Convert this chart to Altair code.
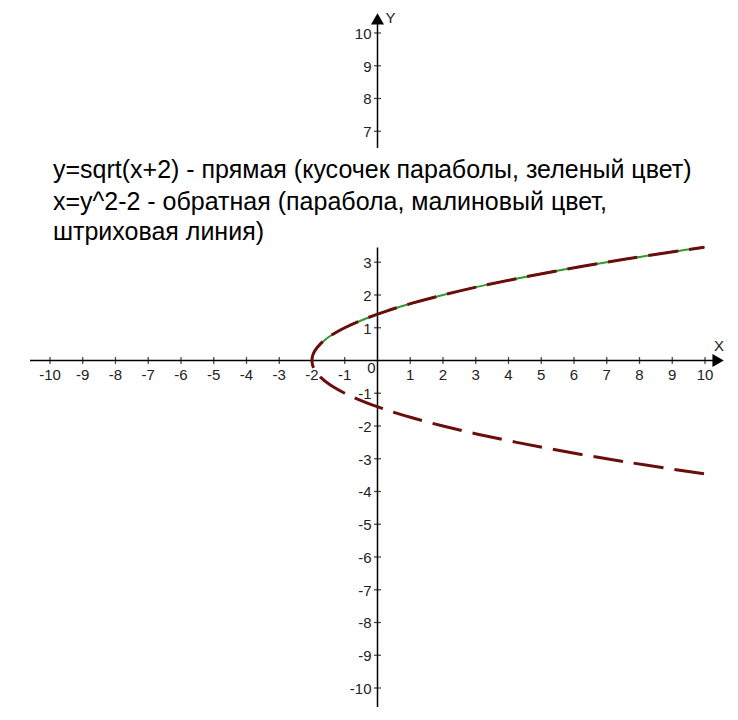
import altair as alt
import pandas as pd

# --- data ---------------------------------------------------------------
# y = sqrt(x+2)  (green, solid)
green_x = [-2, -1.98, -1.95, -1.9, -1.8, -1.65, -1.5, -1.25, -1, -0.5, 0, 0.5, 1, 1.5, 2, 3, 4, 5, 6, 7, 8, 9, 10]
green_y = [0, 0.14, 0.22, 0.32, 0.45, 0.59, 0.71, 0.87, 1, 1.22, 1.41, 1.58, 1.73, 1.87, 2, 2.24, 2.45, 2.65, 2.83, 3, 3.16, 3.32, 3.46]

# x = y^2 - 2  (dark red, dashed)
red_y = [-3.46, -3.2, -3.0, -2.75, -2.5, -2.25, -2.0, -1.75, -1.5, -1.25, -1.0, -0.75, -0.5, -0.3, -0.15, 0,
         0.15, 0.3, 0.5, 0.75, 1.0, 1.25, 1.5, 1.75, 2.0, 2.25, 2.5, 2.75, 3.0, 3.2, 3.46]
red_x = [9.97, 8.24, 7.0, 5.56, 4.25, 3.06, 2.0, 1.06, 0.25, -0.44, -1.0, -1.44, -1.75, -1.91, -1.98, -2,
         -1.98, -1.91, -1.75, -1.44, -1.0, -0.44, 0.25, 1.06, 2.0, 3.06, 4.25, 5.56, 7.0, 8.24, 9.97]

x_ticks = [-10, -9, -8, -7, -6, -5, -4, -3, -2, -1, 1, 2, 3, 4, 5, 6, 7, 8, 9, 10]
x_labels = ["-10", "-9", "-8", "-7", "-6", "-5", "-4", "-3", "-2", "-1", "1", "2", "3", "4", "5", "6", "7", "8", "9", "10"]
y_ticks = [10, 9, 8, 7, 3, 2, 1, -1, -2, -3, -4, -5, -6, -7, -8, -9, -10]
y_labels = ["10", "9", "8", "7", "3", "2", "1", "-1", "-2", "-3", "-4", "-5", "-6", "-7", "-8", "-9", "-10"]

# axis segments (x-axis, and y-axis interrupted by the caption block)
axis_x1 = [-10.61, 0, 0]
axis_x2 = [10.3, 0, 0]
axis_y1 = [0, 6.49, 3.45]
axis_y2 = [0, 10.3, -10.58]

caption = [
    "y=sqrt(x+2) - прямая (кусочек параболы, зеленый цвет)",
    "x=y^2-2 - обратная (парабола, малиновый цвет,",
    "штриховая линия)",
]
caption_y = [5.57, 4.6, 3.68]

# --- scales -------------------------------------------------------------
X_DOM = [-11.282, 10.702]
Y_DOM = [-10.733, 10.763]
xs = alt.Scale(domain=X_DOM, nice=False, zero=False)
ys = alt.Scale(domain=Y_DOM, nice=False, zero=False)


def X(field="x"):
    return alt.X(f"{field}:Q", scale=xs, axis=None)


def Y(field="y"):
    return alt.Y(f"{field}:Q", scale=ys, axis=None)


FONT = "Liberation Sans"
LBL = "#222222"

axes_df = pd.DataFrame({"x": axis_x1, "x2": axis_x2, "y": axis_y1, "y2": axis_y2})
axes = alt.Chart(axes_df).mark_rule(color="black", strokeWidth=1.5).encode(
    x=X(), x2="x2:Q", y=Y(), y2="y2:Q"
)

arrows_df = pd.DataFrame({"x": [10.4, 0], "y": [0, 10.43], "shape": ["triangle-right", "triangle-up"]})
arrows = alt.Chart(arrows_df).mark_point(filled=True, color="black", opacity=1, size=170).encode(
    x=X(), y=Y(), shape=alt.Shape("shape:N", scale=None, legend=None)
)

xt_df = pd.DataFrame({"x": x_ticks, "y": [0] * len(x_ticks), "t": x_labels})
xticks = alt.Chart(xt_df).mark_tick(orient="vertical", color="black", size=7, thickness=1.3).encode(x=X(), y=Y())
xlabels = alt.Chart(xt_df).mark_text(
    font=FONT, fontSize=15, baseline="middle", align="center", dy=15, color=LBL
).encode(x=X(), y=Y(), text="t:N")

yt_df = pd.DataFrame({"x": [0] * len(y_ticks), "y": y_ticks, "t": y_labels})
yticks = alt.Chart(yt_df).mark_tick(orient="horizontal", color="black", size=7, thickness=1.3).encode(x=X(), y=Y())
ylabels = alt.Chart(yt_df).mark_text(
    font=FONT, fontSize=15, baseline="middle", align="right", dx=-6, dy=1, color=LBL
).encode(x=X(), y=Y(), text="t:N")

zero = alt.Chart(pd.DataFrame({"x": [0], "y": [0], "t": ["0"]})).mark_text(
    font=FONT, fontSize=15, baseline="middle", align="center", dx=-6, dy=8, color=LBL
).encode(x=X(), y=Y(), text="t:N")

name_y = alt.Chart(pd.DataFrame({"x": [0], "y": [10.43], "t": ["Y"]})).mark_text(
    font=FONT, fontSize=15, baseline="middle", align="center", dx=13, dy=-1, color=LBL
).encode(x=X(), y=Y(), text="t:N")
name_x = alt.Chart(pd.DataFrame({"x": [10.4], "y": [0], "t": ["X"]})).mark_text(
    font=FONT, fontSize=15, baseline="middle", align="center", dx=1, dy=-14, color=LBL
).encode(x=X(), y=Y(), text="t:N")

green = alt.Chart(pd.DataFrame({"x": green_x, "y": green_y, "o": list(range(len(green_x)))})).mark_line(
    color="#2f9a2f", strokeWidth=2, interpolate="catmull-rom"
).encode(x=X(), y=Y(), order="o:Q")

red = alt.Chart(pd.DataFrame({"x": red_x, "y": red_y, "o": list(range(len(red_x)))})).mark_line(
    color="#6a0d0d", strokeWidth=3, strokeDash=[30, 11], interpolate="catmull-rom"
).encode(x=X(), y=Y(), order="o:Q")

cap = alt.Chart(pd.DataFrame({"x": [-9.91] * 3, "y": caption_y, "t": caption})).mark_text(
    font=FONT, fontSize=25, baseline="alphabetic", align="left", color="black"
).encode(x=X(), y=Y(), text="t:N")

chart = alt.layer(
    axes, arrows, xticks, yticks, xlabels, ylabels, zero, name_y, name_x, green, red, cap
).properties(
    width=720, height=704, autosize=alt.AutoSizeParams(type="none"), padding=0
).configure_view(stroke=None)

chart.save("out.html", embed_options={"renderer": "svg", "actions": False})
